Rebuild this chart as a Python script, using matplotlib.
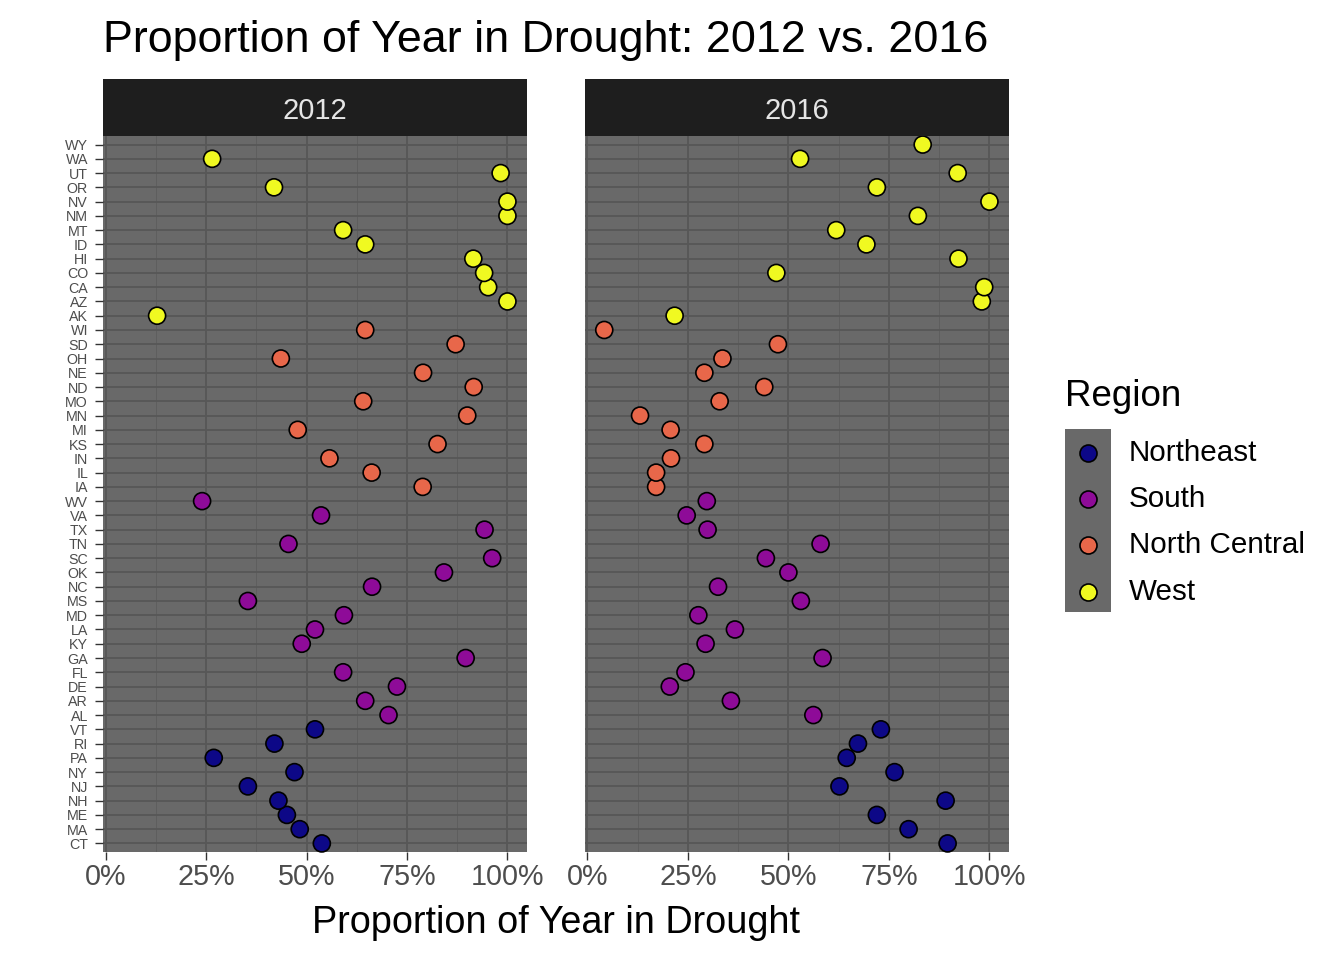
import numpy as np
import matplotlib
matplotlib.use("Agg")
import matplotlib.pyplot as plt
from matplotlib.ticker import FixedLocator, PercentFormatter

plt.rcParams['font.family'] = ['Liberation Sans', 'DejaVu Sans']

# ---- data (bottom to top) ----
states = ["CT", "MA", "ME", "NH", "NJ", "NY", "PA", "RI", "VT",
          "AL", "AR", "DE", "FL", "GA", "KY", "LA", "MD", "MS", "NC", "OK", "SC", "TN", "TX", "VA", "WV",
          "IA", "IL", "IN", "KS", "MI", "MN", "MO", "ND", "NE", "OH", "SD", "WI",
          "AK", "AZ", "CA", "CO", "HI", "ID", "MT", "NM", "NV", "OR", "UT", "WA", "WY"]
regions = (["Northeast"] * 9 + ["South"] * 16 + ["North Central"] * 12 + ["West"] * 13)

prop_2012 = [0.538, 0.483, 0.451, 0.430, 0.354, 0.470, 0.269, 0.420, 0.521,
             0.704, 0.646, 0.725, 0.591, 0.896, 0.488, 0.521, 0.593, 0.354, 0.663, 0.842, 0.962, 0.455, 0.943, 0.536, 0.240,
             0.789, 0.662, 0.557, 0.826, 0.478, 0.900, 0.641, 0.916, 0.790, 0.436, 0.871, 0.646,
             0.128, 1.000, 0.952, 0.942, 0.915, 0.646, 0.591, 1.000, 1.000, 0.419, 0.983, 0.265, np.nan]
prop_2016 = [0.896, 0.799, 0.720, 0.891, 0.627, 0.764, 0.645, 0.673, 0.730,
             0.562, 0.357, 0.205, 0.244, 0.585, 0.294, 0.367, 0.276, 0.531, 0.325, 0.500, 0.444, 0.580, 0.299, 0.247, 0.297,
             0.171, 0.171, 0.208, 0.291, 0.207, 0.131, 0.329, 0.440, 0.291, 0.336, 0.474, 0.042,
             0.217, 0.981, 0.987, 0.470, 0.923, 0.694, 0.619, 0.822, 1.000, 0.720, 0.921, 0.529, 0.834]

years = ["2012", "2016"]
region_levels = ["Northeast", "South", "North Central", "West"]
region_colors = ["#0D0887", "#8E0B98", "#E8674A", "#F0F921"]
x_breaks = [0, 0.25, 0.5, 0.75, 1.0]
x_minor = [0.125, 0.375, 0.625, 0.875]

W, H = 1344, 960
fig = plt.figure(figsize=(W / 100, H / 100), dpi=100)

def fx(px):
    return px / W

def fy(py):
    return 1 - py / H

panel_bg = "#696969"
grid_major = "#575757"
grid_minor = "#5E5E5E"

allvals = np.array(prop_2012 + prop_2016, dtype=float)
vmin, vmax = np.nanmin(allvals), np.nanmax(allvals)
rng = vmax - vmin
xlim = (vmin - 0.05 * rng, vmax + 0.05 * rng)

col_map = dict(zip(region_levels, region_colors))
colors = [col_map[r] for r in regions]
ypos = np.arange(len(states))

panels = [(103.3, 526.7), (585.0, 1008.7)]
ptop, pbot = 136, 852
strip_top = 79

for i, (yr, vals) in enumerate(zip(years, [prop_2012, prop_2016])):
    l, r = panels[i]
    ax = fig.add_axes([fx(l), fy(pbot), fx(r - l), (pbot - ptop) / H])
    ax.set_facecolor(panel_bg)
    for s in ax.spines.values():
        s.set_visible(False)
    ax.set_xlim(*xlim)
    ax.set_ylim(-0.6, len(states) - 1 + 0.6)
    ax.xaxis.set_major_locator(FixedLocator(x_breaks))
    ax.xaxis.set_minor_locator(FixedLocator(x_minor))
    ax.xaxis.set_major_formatter(PercentFormatter(1.0, decimals=0))
    ax.set_yticks(ypos)
    ax.grid(which="major", axis="both", color=grid_major, linewidth=1.3)
    ax.grid(which="minor", axis="x", color=grid_minor, linewidth=0.7)
    ax.set_axisbelow(True)
    ax.tick_params(axis="x", which="major", length=6, width=1.0, color="#333333",
                   labelsize=20.7, labelcolor="#4D4D4D", pad=2)
    ax.tick_params(axis="x", which="minor", length=0)
    if i == 0:
        ax.set_yticklabels(states)
        ax.tick_params(axis="y", length=6, width=1.0, color="#333333",
                       labelsize=10.3, labelcolor="#4D4D4D", pad=5)
    else:
        ax.set_yticklabels([])
        ax.tick_params(axis="y", length=0)
    v = np.array(vals, dtype=float)
    ok = ~np.isnan(v)
    ax.scatter(v[ok], ypos[ok], s=150, c=np.array(colors)[ok], edgecolors="black",
               linewidths=1.2, zorder=3, clip_on=False)

    # strip
    sax = fig.add_axes([fx(l), fy(ptop), fx(r - l), (ptop - strip_top) / H])
    sax.set_facecolor("#1E1E1E")
    sax.set_xticks([])
    sax.set_yticks([])
    for s in sax.spines.values():
        s.set_visible(False)
    sax.text(0.5, 0.44, yr, ha="center", va="center", color="#E5E5E5",
             fontsize=21, transform=sax.transAxes)

# title and axis title
fig.text(fx(103), fy(52), "Proportion of Year in Drought: 2012 vs. 2016",
         fontsize=32.3, ha="left", va="baseline", color="black")
fig.text(fx((103.3 + 1008.7) / 2), fy(933), "Proportion of Year in Drought",
         fontsize=27.2, ha="center", va="baseline", color="black")

# legend
fig.text(fx(1065), fy(396), "Region", fontsize=26.5, ha="left", va="center", color="black")
lax = fig.add_axes([fx(1065), fy(612), fx(1111 - 1065), (612 - 429) / H])
lax.set_facecolor(panel_bg)
lax.set_xlim(0, 1)
lax.set_ylim(len(region_levels) - 0.5, -0.5)
lax.set_xticks([])
lax.set_yticks([])
for s in lax.spines.values():
    s.set_visible(False)
key_y = [453, 499, 545, 592]
for k, (name, c) in enumerate(zip(region_levels, region_colors)):
    y_px = key_y[k]
    yk = (y_px - 429) / (612 - 429) * len(region_levels) - 0.5
    lax.scatter([0.5], [yk], s=150, c=c, edgecolors="black", linewidths=1.2, zorder=3)
    fig.text(fx(1129), fy(y_px), name, fontsize=21.3, ha="left", va="center", color="black")

fig.savefig("out.png", dpi=100)
